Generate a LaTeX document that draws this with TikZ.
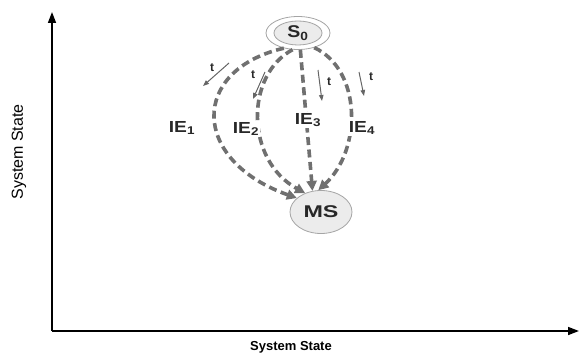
\documentclass[tikz,border=0pt]{standalone}
\usepackage{graphicx}
\usepackage{fontspec}
\setmainfont{Liberation Sans}
\usetikzlibrary{arrows.meta,shapes.geometric}
\definecolor{edgegray}{RGB}{112,112,112}
\definecolor{nodefill}{RGB}{236,236,236}
\definecolor{nodeline}{RGB}{165,165,165}
\definecolor{txt}{RGB}{40,40,40}
\newcommand{\wide}[2]{\scalebox{#1}[1]{#2}}
\tikzset{
  axis/.style={line width=1.6pt,-{Triangle[length=11pt,width=8pt]}},
  ieedge/.style={edgegray,line width=3.6pt,dash pattern=on 8pt off 4.5pt,-{Triangle[length=10pt,width=10pt]}},
  tarrow/.style={edgegray!90!black,line width=1pt,-{Triangle[length=6pt,width=4.5pt]}},
  statenode/.style={ellipse,draw=nodeline,line width=0.8pt,fill=nodefill,text=txt,font=\fontsize{17}{19}\selectfont\bfseries,inner sep=0pt},
  ielabel/.style={text=txt,font=\fontsize{16}{18}\selectfont\bfseries,fill=white,inner sep=1pt},
  tlabel/.style={text=txt,font=\fontsize{12}{14}\selectfont\bfseries,inner sep=0pt}
}
\begin{document}
\begin{tikzpicture}[x=1pt,y=-1pt]
\useasboundingbox (0,0) rectangle (579,353);
% axes
\coordinate (origin) at (52,331);
\coordinate (ytip) at (52,12);
\coordinate (xtip) at (579,331);
\draw[axis] (origin) -- (ytip);
\draw[axis] (origin) -- (xtip);
\node[rotate=90,font=\fontsize{16}{18}\selectfont,text=black,inner sep=0pt] (ylab) at (19,152) {System State};
\node[font=\fontsize{13}{15}\selectfont\bfseries,text=black,inner sep=0pt] (xlab) at (291,347) {System State};
% states
\node[statenode,fill=white,minimum width=64pt,minimum height=33pt] (s0) at (298,33) {};
\draw[nodeline,line width=0.8pt,fill=nodefill] (s0.center) ellipse [x radius=24pt, y radius=12pt];
\node[font=\fontsize{17}{19}\selectfont\bfseries,text=txt,inner sep=0pt] (s0t) at (298,33) {\wide{1.15}{S\textsubscript{0}}};
\node[statenode,minimum width=62pt,minimum height=43pt] (ms) at (321,212) {\wide{1.37}{MS}};
% edges
\draw[ieedge] (s0.227) .. controls (190,70) and (190,160) .. (ms.150);
\draw[ieedge] (s0.252) .. controls (245,75) and (245,160) .. (ms.130);
\draw[ieedge] (s0.278) -- (ms.112);
\draw[ieedge] (s0.318) .. controls (362,70) and (362,150) .. (ms.97);
% edge labels
\node[ielabel] (l1) at (182,128) {\wide{1.2}{IE\textsubscript{1}}};
\node[ielabel] (l2) at (246,129) {\wide{1.2}{IE\textsubscript{2}}};
\node[ielabel] (l3) at (308,120) {\wide{1.2}{IE\textsubscript{3}}};
\node[ielabel] (l4) at (362,128) {\wide{1.2}{IE\textsubscript{4}}};
% t arrows
\coordinate (t1a) at (229,63); \coordinate (t1b) at (203,86);
\coordinate (t2a) at (265,72); \coordinate (t2b) at (253,99);
\coordinate (t3a) at (318,70); \coordinate (t3b) at (322,101);
\coordinate (t4a) at (359,72); \coordinate (t4b) at (364,96);
\draw[tarrow] (t1a) -- (t1b);
\draw[tarrow] (t2a) -- (t2b);
\draw[tarrow] (t3a) -- (t3b);
\draw[tarrow] (t4a) -- (t4b);
\node[tlabel] (t1) at (212,68) {t};
\node[tlabel] (t2) at (253,75) {t};
\node[tlabel] (t3) at (329,82) {t};
\node[tlabel] (t4) at (371,77) {t};
\end{tikzpicture}
\end{document}
